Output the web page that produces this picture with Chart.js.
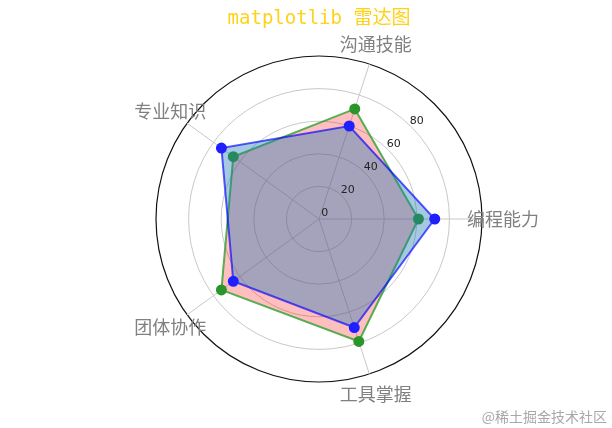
<!DOCTYPE html>
<html>
<head>
<meta charset="utf-8">
<script src="https://cdn.jsdelivr.net/npm/chart.js@4/dist/chart.umd.min.js"></script>
<style>
	html, body { margin: 0; padding: 0; background: #fff; }
	#wrap { width: 612px; height: 428px; position: relative; }
</style>
</head>
<body>
<div id="wrap"><canvas id="radar"></canvas></div>
<script>
// categories in clockwise order starting at the right (east)
const categories = ["编程能力", "工具掌握", "团体协作", "专业知识", "沟通技能"];
const greenValues = [61, 79, 74, 65, 71];
const blueValues = [71, 70, 65, 74, 60];
const tickValues = [0, 20, 40, 60, 80];
const titleText = "matplotlib 雷达图";
const watermark = "@稀土掘金技术社区";

const overlayText = {
	id: "overlayText",
	afterDraw(chart) {
		const scale = chart.scales.r;
		const ctx = chart.ctx;
		ctx.save();
		ctx.textAlign = "center";
		ctx.textBaseline = "middle";

		// radial tick labels along 45 degrees
		ctx.fillStyle = "#222";
		ctx.font = "11px 'DejaVu Sans'";
		const a = Math.PI / 4;
		tickValues.forEach(v => {
			const d = scale.getDistanceFromCenterForValue(v) + 8;
			ctx.fillText(String(v), scale.xCenter + d * Math.cos(a), scale.yCenter - d * Math.sin(a));
		});

		// category labels
		ctx.fillStyle = "#808080";
		ctx.font = "18px 'Noto Sans CJK SC'";
		categories.forEach((label, i) => {
			const p = scale.getPointPosition(i, scale.drawingArea + 21);
			ctx.fillText(label, p.x, p.y);
		});

		// watermark
		ctx.fillStyle = "#a8a8a8";
		ctx.font = "14px 'Noto Sans CJK SC'";
		ctx.textAlign = "right";
		ctx.fillText(watermark, 607, 417);
		ctx.restore();
	}
};

new Chart(document.getElementById("radar"), {
	type: "radar",
	data: {
		labels: categories,
		datasets: [{
			label: "B",
			data: blueValues,
			borderColor: "rgba(0,0,255,0.65)",
			backgroundColor: "rgba(31,119,180,0.4)",
			borderWidth: 2,
			pointBackgroundColor: "#1f1fff",
			pointBorderColor: "#1f1fff",
			pointRadius: 4.5,
			fill: true
		}, {
			label: "A",
			data: greenValues,
			borderColor: "rgba(44,160,44,0.8)",
			backgroundColor: "rgba(255,0,0,0.25)",
			borderWidth: 2,
			pointBackgroundColor: "#2a962a",
			pointBorderColor: "#2a962a",
			pointRadius: 4.5,
			fill: true
		}]
	},
	options: {
		responsive: true,
		maintainAspectRatio: false,
		animation: false,
		layout: {
			padding: {top: 8, left: 156, right: 130, bottom: 45}
		},
		elements: {
			line: {tension: 0}
		},
		plugins: {
			legend: {display: false},
			tooltip: {enabled: false},
			title: {
				display: true,
				text: titleText,
				color: "#FFD21A",
				font: {family: "'DejaVu Sans Mono', 'Noto Sans CJK SC', monospace", size: 19, weight: "normal"},
				padding: {top: 0, bottom: 26}
			}
		},
		scales: {
			r: {
				min: 0,
				max: 100,
				startAngle: 90,
				ticks: {display: false, stepSize: 20},
				pointLabels: {display: false},
				grid: {
					circular: true,
					color: c => (c.tick && c.tick.value === 100) ? "#111" : "#c8c8c8",
					lineWidth: c => (c.tick && c.tick.value === 100) ? 1.2 : 1
				},
				angleLines: {color: "#c8c8c8", lineWidth: 1}
			}
		}
	},
	plugins: [overlayText]
});
</script>
</body>
</html>
